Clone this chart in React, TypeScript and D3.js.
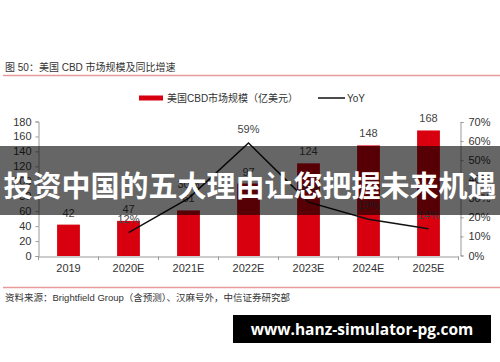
import * as React from "react";
import * as d3 from "d3";

const years = ["2019", "2020E", "2021E", "2022E", "2023E", "2024E", "2025E"];
const marketSize = [42, 47, 61, 97, 124, 148, 168];
const yoy = [null, 12, 30, 59, 28, 19, 14];
const leftTicks = [0, 20, 40, 60, 80, 100, 120, 140, 160, 180];
const rightTicks = [0, 10, 20, 30, 40, 50, 60, 70];

const FONT = "'Liberation Sans', Arial, 'Noto Sans CJK SC', sans-serif";

export default function App() {
    const ref = React.useRef<SVGSVGElement>(null);

    React.useEffect(() => {
        const svg = d3.select(ref.current);
        svg.selectAll("*").remove();

        const x = d3.scaleBand().domain(years).range([38.5, 458.5]).paddingInner(0.62).paddingOuter(0.31);
        const yL = d3.scaleLinear().domain([0, 180]).range([256, 121.5]);
        const yR = d3.scaleLinear().domain([0, 70]).range([255.5, 122]);

        // title
        svg.append("text").attr("x", 5).attr("y", 71).attr("font-size", 10).attr("fill", "#333")
            .attr("font-family", FONT).text("图 50：美国 CBD 市场规模及同比增速");
        svg.append("line").attr("x1", 3).attr("x2", 500).attr("y1", 75.5).attr("y2", 75.5)
            .attr("stroke", "#e89a9a").attr("stroke-width", 1.5);

        // legend
        svg.append("rect").attr("x", 139).attr("y", 95.5).attr("width", 24).attr("height", 5).attr("fill", "#d8000f");
        svg.append("text").attr("x", 167).attr("y", 102).attr("font-size", 10).attr("fill", "#333")
            .attr("font-family", FONT).text("美国CBD市场规模（亿美元）");
        svg.append("line").attr("x1", 318).attr("x2", 345).attr("y1", 98).attr("y2", 98)
            .attr("stroke", "#111").attr("stroke-width", 1.5);
        svg.append("text").attr("x", 347).attr("y", 102).attr("font-size", 10).attr("fill", "#333")
            .attr("font-family", FONT).text("YoY");

        // axes
        const left = svg.append("g").attr("transform", "translate(38.5,0)")
            .call(d3.axisLeft(yL).tickValues(leftTicks).tickSize(3).tickPadding(4));
        const right = svg.append("g").attr("transform", "translate(460.5,0)")
            .call(d3.axisRight(yR).tickValues(rightTicks).tickSize(3).tickPadding(5).tickFormat(d => `${d}%`));
        const bottom = svg.append("g").attr("transform", "translate(0,256.5)")
            .call(d3.axisBottom(x).tickSize(0).tickPadding(8));
        [left, right, bottom].forEach(g => {
            g.select(".domain").attr("stroke", "#999");
            g.selectAll(".tick line").attr("stroke", "#999");
            g.selectAll("text").attr("font-size", 11).attr("fill", "#333").attr("font-family", FONT);
        });
        // category boundary ticks on x axis
        svg.append("g").selectAll("line").data(years.concat(["end"])).join("line")
            .attr("x1", (d, i) => 38.5 + i * x.step()).attr("x2", (d, i) => 38.5 + i * x.step())
            .attr("y1", 256.5).attr("y2", 260).attr("stroke", "#999");

        // bars
        svg.append("g").selectAll("rect").data(marketSize).join("rect")
            .attr("x", (d, i) => x(years[i])!)
            .attr("y", d => yL(d))
            .attr("width", x.bandwidth())
            .attr("height", d => yL(0) - yL(d))
            .attr("fill", "#d8000f");
        svg.append("g").selectAll("text").data(marketSize).join("text")
            .attr("x", (d, i) => x(years[i])! + x.bandwidth() / 2)
            .attr("y", d => yL(d) - 8)
            .attr("text-anchor", "middle").attr("font-size", 11).attr("fill", "#444")
            .attr("font-family", FONT).text(d => d);

        // yoy line
        const pts = yoy.map((v, i) => ({ v, c: years[i] })).filter(p => p.v !== null) as { v: number; c: string }[];
        const line = d3.line<{ v: number; c: string }>()
            .x(p => x(p.c)! + x.bandwidth() / 2)
            .y(p => yR(p.v));
        svg.append("path").datum(pts).attr("d", line).attr("fill", "none")
            .attr("stroke", "#111").attr("stroke-width", 1.5);
        svg.append("g").selectAll("text").data(pts).join("text")
            .attr("x", p => x(p.c)! + x.bandwidth() / 2)
            .attr("y", p => yR(p.v) - 10)
            .attr("text-anchor", "middle").attr("font-size", 11).attr("fill", "#444")
            .attr("font-family", FONT).text(p => `${p.v}%`);

        // source
        svg.append("line").attr("x1", 3).attr("x2", 500).attr("y1", 287.5).attr("y2", 287.5)
            .attr("stroke", "#e89a9a").attr("stroke-width", 1.5);
        svg.append("text").attr("x", 5).attr("y", 301).attr("font-size", 9.5).attr("fill", "#333")
            .attr("font-family", FONT).text("资料来源：Brightfield Group（含预测）、汉麻号外，中信证券研究部");

        // overlay banner
        svg.append("rect").attr("x", 0).attr("y", 146).attr("width", 500).attr("height", 69)
            .attr("fill", "#000").attr("opacity", 0.6);
        svg.append("text").attr("x", 250).attr("y", 197).attr("text-anchor", "middle")
            .attr("font-size", 29).attr("font-weight", "bold").attr("fill", "#fff")
            .attr("font-family", "'Noto Sans CJK SC', sans-serif").text("投资中国的五大理由让您把握未来机遇");

        // watermark
        svg.append("rect").attr("x", 233).attr("y", 315).attr("width", 258).attr("height", 28).attr("fill", "#000");
        svg.append("text").attr("x", 362).attr("y", 334.5).attr("text-anchor", "middle")
            .attr("font-size", 15.5).attr("font-weight", "bold").attr("fill", "#fff")
            .attr("font-family", "'Open Sans', 'Noto Sans', sans-serif").text("www.hanz-simulator-pg.com");
    }, []);

    return (
        <svg ref={ref} width={500} height={362}
            style={{ position: "absolute", left: 0, top: 0, background: "#fff" }} />
    );
}
